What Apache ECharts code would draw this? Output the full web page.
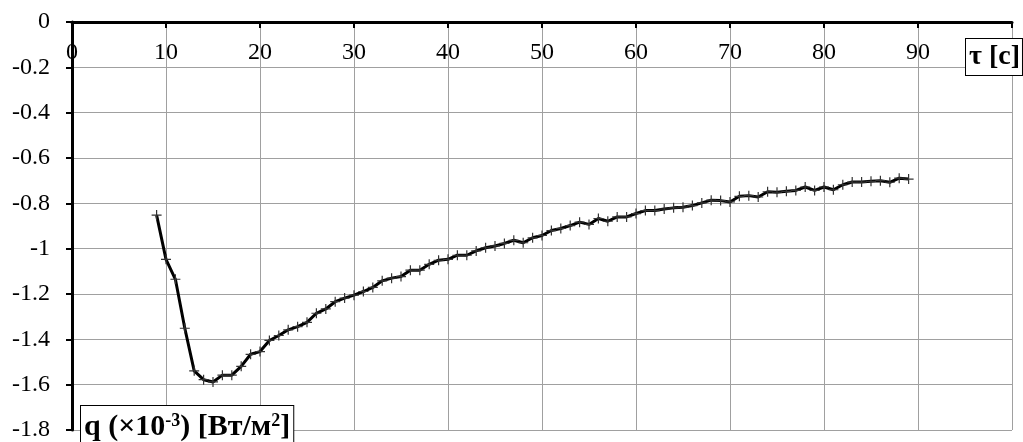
<!DOCTYPE html>
<html>
<head>
<meta charset="utf-8">
<script src="https://cdn.jsdelivr.net/npm/echarts@6/dist/echarts.min.js"></script>
<style>
html,body{margin:0;padding:0;background:#fff;}
#chart{width:1023px;height:442px;}
</style>
</head>
<body>
<div id="chart"></div>
<script>
// time, s
var times = [9,10,11,12,13,14,15,16,17,18,19,20,21,22,23,24,25,26,27,28,29,30,31,32,33,34,35,36,37,38,39,40,41,42,43,44,45,46,47,48,49,50,51,52,53,54,55,56,57,58,59,60,61,62,63,64,65,66,67,68,69,70,71,72,73,74,75,76,77,78,79,80,81,82,83,84,85,86,87,88,89];
// q (x10^-3) W/m2
var qValues = [-0.852,-1.047,-1.135,-1.351,-1.539,-1.578,-1.588,-1.558,-1.558,-1.519,-1.466,-1.454,-1.405,-1.383,-1.358,-1.344,-1.325,-1.285,-1.266,-1.234,-1.218,-1.205,-1.189,-1.171,-1.142,-1.130,-1.123,-1.095,-1.095,-1.069,-1.051,-1.047,-1.029,-1.029,-1.010,-0.996,-0.988,-0.977,-0.963,-0.974,-0.952,-0.942,-0.920,-0.911,-0.898,-0.883,-0.893,-0.867,-0.879,-0.860,-0.860,-0.845,-0.832,-0.832,-0.825,-0.820,-0.817,-0.810,-0.798,-0.786,-0.788,-0.794,-0.769,-0.766,-0.772,-0.749,-0.751,-0.747,-0.743,-0.728,-0.743,-0.728,-0.740,-0.718,-0.706,-0.706,-0.703,-0.700,-0.707,-0.689,-0.693];
var xName = 'τ [c]';
var yNameParts = ['q (×10', '-3', ') [Вт/м', '2', ']'];

var seriesData = times.map(function (t, i) { return [t, qValues[i]]; });
var FONT = '"Liberation Serif", "DejaVu Serif", serif';

var chart = echarts.init(document.getElementById('chart'), null, {renderer: 'canvas'});
chart.setOption({
  animation: false,
  backgroundColor: '#fff',
  grid: {left: 72, top: 22, right: 11, bottom: 7, containLabel: false},
  xAxis: {
    type: 'value', min: 0, max: 100, interval: 10, position: 'top',
    axisLine: {onZero: false, lineStyle: {color: '#000', width: 3}},
    axisTick: {show: true, inside: true, length: 6, lineStyle: {color: '#000', width: 2}},
    axisLabel: {inside: true, margin: 19, color: '#000', fontFamily: FONT, fontSize: 24,
      formatter: function (v) { return v === 100 ? '' : String(v); }},
    splitLine: {show: true, lineStyle: {color: '#a0a0a0', width: 1}}
  },
  yAxis: {
    type: 'value', min: -1.8, max: 0, interval: 0.2,
    axisLine: {show: true, onZero: false, lineStyle: {color: '#000', width: 3}},
    axisTick: {show: true, inside: false, length: 6, lineStyle: {color: '#000', width: 2}},
    axisLabel: {margin: 22, color: '#000', fontFamily: FONT, fontSize: 24,
      formatter: function (v) { return String(Math.round(v * 10) / 10); }},
    splitLine: {show: true, lineStyle: {color: '#a0a0a0', width: 1}}
  },
  series: [{
    type: 'line',
    data: seriesData,
    symbol: 'path://M4.4,0H5.6V4.4H10V5.6H5.6V10H4.4V5.6H0V4.4H4.4Z',
    symbolSize: 10,
    showSymbol: true,
    itemStyle: {color: '#333'},
    lineStyle: {color: '#000', width: 3},
    z: 5
  }],
  graphic: [
    {
      type: 'text', left: 965, top: 38, z: 100,
      style: {
        text: xName, fill: '#000', font: 'bold 28px ' + FONT,
        backgroundColor: '#fff', borderColor: '#000', borderWidth: 1,
        padding: [4, 2, 4, 3]
      }
    },
    {
      type: 'text', left: 80, top: 405, z: 100,
      style: {
        text: yNameParts[0] + '{s|' + yNameParts[1] + '}' + yNameParts[2] + '{s|' + yNameParts[3] + '}' + yNameParts[4],
        fill: '#000', font: 'bold 30px ' + FONT,
        backgroundColor: '#fff', borderColor: '#000', borderWidth: 1,
        padding: [6, 3, 10, 3],
        rich: {
          s: {font: 'bold 18px ' + FONT, fill: '#000', verticalAlign: 'top', padding: [0, 0, 13, 0]}
        }
      }
    }
  ]
});
</script>
</body>
</html>
